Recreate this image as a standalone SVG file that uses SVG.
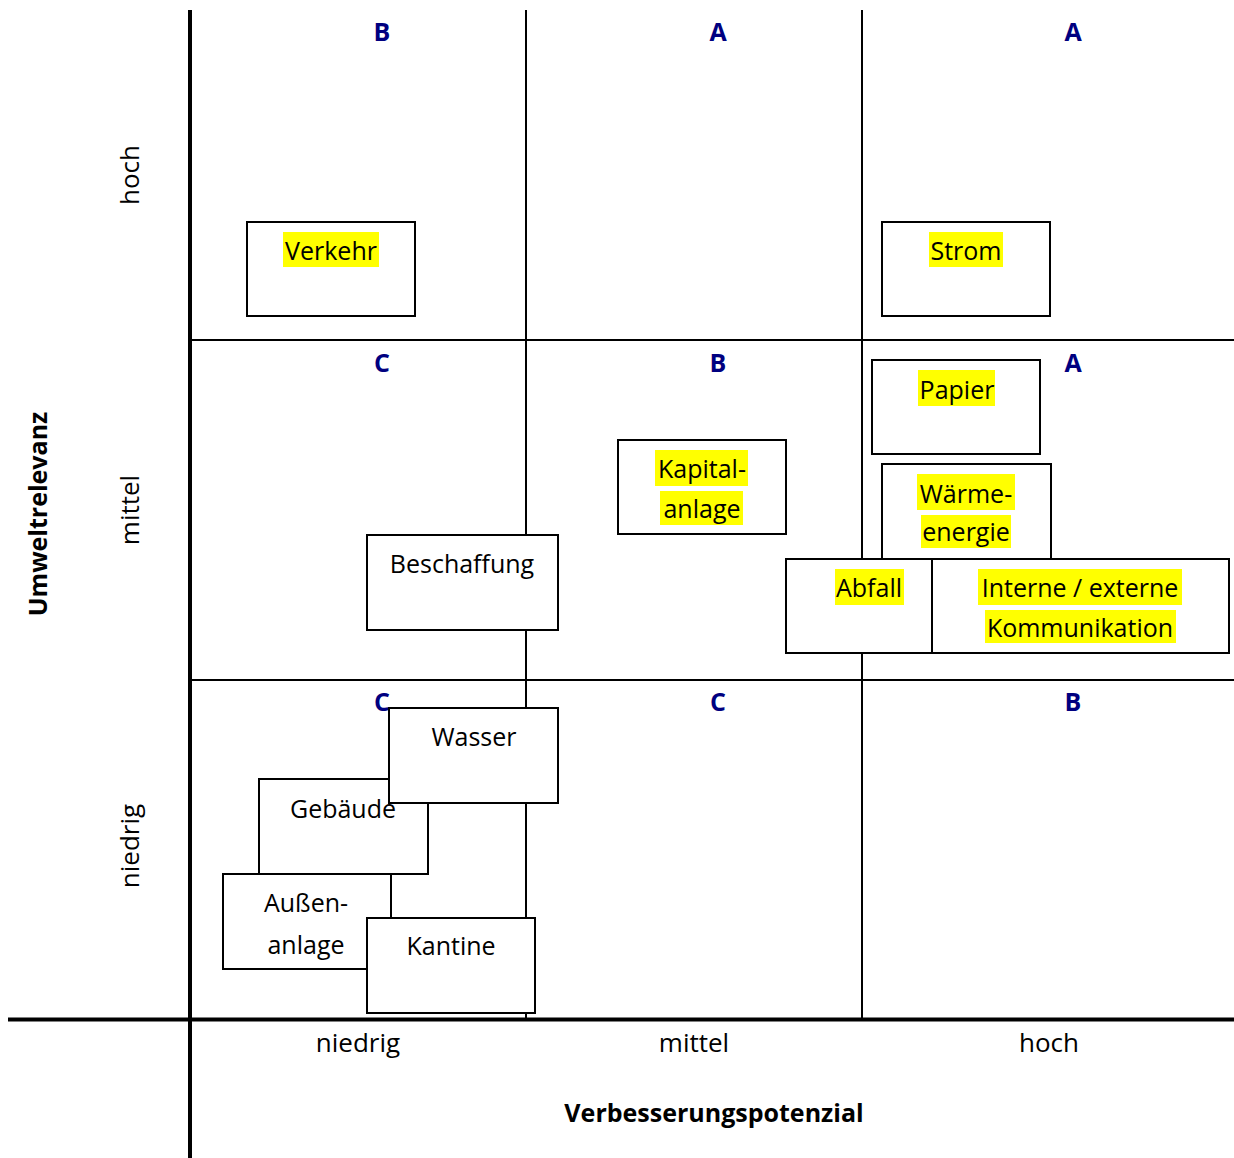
<svg xmlns="http://www.w3.org/2000/svg" width="1234" height="1158" viewBox="0 0 1234 1158">
<style>
.grid{stroke:#000;stroke-width:2;fill:none}
.axis{stroke:#000;stroke-width:4;fill:none}
.box{fill:#fff;stroke:#000;stroke-width:2}
.hl{fill:#ffff00}
.t{font-family:"Open Sans","Liberation Sans",sans-serif;font-size:25px;fill:#000;text-anchor:middle}
.cls{font-family:"Open Sans","Liberation Sans",sans-serif;font-size:25px;font-weight:bold;fill:#000080;text-anchor:middle}
.ax{font-family:"Open Sans","Liberation Sans",sans-serif;font-size:26px;fill:#000;text-anchor:middle}
.axb{font-family:"Open Sans","Liberation Sans",sans-serif;font-size:25px;font-weight:bold;fill:#000;text-anchor:middle}
</style>
<rect width="1234" height="1158" fill="#fff"/>
<g id="grid">
<line class="grid" x1="526" y1="10" x2="526" y2="1018"/>
<line class="grid" x1="862" y1="10" x2="862" y2="1018"/>
<line class="grid" x1="190" y1="340" x2="1234" y2="340"/>
<line class="grid" x1="190" y1="680" x2="1234" y2="680"/>
<line class="axis" x1="190" y1="10" x2="190" y2="1158"/>
<line class="axis" x1="8" y1="1019.5" x2="1234" y2="1019.5"/>
</g>
<g id="classes">
<text class="cls" x="382" y="41">B</text>
<text class="cls" x="718" y="41">A</text>
<text class="cls" x="1073" y="41">A</text>
<text class="cls" x="382" y="372">C</text>
<text class="cls" x="718" y="372">B</text>
<text class="cls" x="1073" y="372">A</text>
<text class="cls" x="382" y="711">C</text>
<text class="cls" x="718" y="711">C</text>
<text class="cls" x="1073" y="711">B</text>
</g>
<g id="axis-labels">
<text class="ax" x="358" y="1052">niedrig</text>
<text class="ax" x="694" y="1052">mittel</text>
<text class="ax" x="1049" y="1052">hoch</text>
<text class="axb" x="714" y="1122">Verbesserungspotenzial</text>
<text class="ax" transform="translate(139,175) rotate(-90)">hoch</text>
<text class="ax" transform="translate(139,510) rotate(-90)">mittel</text>
<text class="ax" transform="translate(139,846) rotate(-90)">niedrig</text>
<text class="axb" transform="translate(47,514) rotate(-90)">Umweltrelevanz</text>
</g>
<g id="node-verkehr">
<rect class="box" x="247" y="222" width="168" height="94"/>
<rect class="hl" x="283" y="232" width="96" height="35"/>
<text class="t" x="331" y="260">Verkehr</text>
</g>
<g id="node-strom">
<rect class="box" x="882" y="222" width="168" height="94"/>
<rect class="hl" x="929" y="232" width="74" height="35"/>
<text class="t" x="966" y="260">Strom</text>
</g>
<g id="node-papier">
<rect class="box" x="872" y="360" width="168" height="94"/>
<rect class="hl" x="918" y="370" width="77" height="36"/>
<text class="t" x="957" y="399">Papier</text>
</g>
<g id="node-waerme">
<rect class="box" x="882" y="464" width="169" height="95"/>
<rect class="hl" x="917" y="474" width="98" height="36"/>
<rect class="hl" x="921" y="515" width="90" height="33"/>
<text class="t" x="966" y="503">Wärme-</text>
<text class="t" x="966" y="541">energie</text>
</g>
<g id="node-kapital">
<rect class="box" x="618" y="440" width="168" height="94"/>
<rect class="hl" x="655" y="450" width="93" height="36"/>
<rect class="hl" x="660" y="491" width="83" height="34"/>
<text class="t" x="702" y="478">Kapital-</text>
<text class="t" x="702" y="518">anlage</text>
</g>
<g id="node-beschaffung">
<rect class="box" x="367" y="535" width="191" height="95"/>
<text class="t" x="462" y="573">Beschaffung</text>
</g>
<g id="node-abfall">
<rect class="box" x="786" y="559" width="146" height="94"/>
<rect class="hl" x="835" y="569" width="69" height="36"/>
<text class="t" x="869" y="597">Abfall</text>
</g>
<g id="node-kommunikation">
<rect class="box" x="932" y="559" width="297" height="94"/>
<rect class="hl" x="978" y="569" width="204" height="36"/>
<rect class="hl" x="985" y="610" width="191" height="33"/>
<text class="t" x="1080" y="597">Interne / externe</text>
<text class="t" x="1080" y="637">Kommunikation</text>
</g>
<g id="node-gebaeude">
<rect class="box" x="259" y="779" width="169" height="95"/>
</g>
<g id="node-wasser">
<rect class="box" x="389" y="708" width="169" height="95"/>
<text class="t" x="474" y="746">Wasser</text>
</g>
<text class="t" x="343" y="818">Gebäude</text>
<g id="node-aussenanlage">
<rect class="box" x="223" y="874" width="168" height="95"/>
<text class="t" x="306" y="912">Außen-</text>
<text class="t" x="306" y="954">anlage</text>
</g>
<g id="node-kantine">
<rect class="box" x="367" y="918" width="168" height="95"/>
<text class="t" x="451" y="955">Kantine</text>
</g>
</svg>
